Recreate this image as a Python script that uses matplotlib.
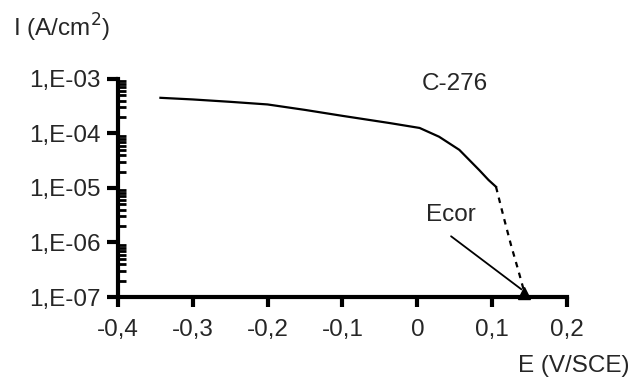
import matplotlib
matplotlib.use("Agg")
import matplotlib.pyplot as plt
from matplotlib.ticker import FixedLocator, LogLocator, NullFormatter

# polarisation curve
e_solid = [-0.343, -0.30, -0.25, -0.20, -0.15, -0.10, -0.05, -0.037, 0.003, 0.029, 0.056, 0.083, 0.095, 0.105]
i_solid = [4.5e-4, 4.2e-4, 3.8e-4, 3.4e-4, 2.7e-4, 2.1e-4, 1.65e-4, 1.55e-4, 1.26e-4, 8.7e-5, 5.0e-5, 2.1e-5, 1.4e-5, 1.05e-5]
e_dash = [0.105, 0.115, 0.125, 0.135, 0.143]
i_dash = [1.05e-5, 3.0e-6, 9.0e-7, 3.0e-7, 1.2e-7]
e_cor = 0.143
i_cor = 1.2e-7

x_ticks = [-0.4, -0.3, -0.2, -0.1, 0.0, 0.1, 0.2]
x_labels = ["-0,4", "-0,3", "-0,2", "-0,1", "0", "0,1", "0,2"]
y_ticks = [1e-7, 1e-6, 1e-5, 1e-4, 1e-3]
y_labels = ["1,E-07", "1,E-06", "1,E-05", "1,E-04", "1,E-03"]

plt.rcParams["font.family"] = ["Liberation Sans", "DejaVu Sans"]
fs = 17.5
txt = "#262626"

fig = plt.figure(figsize=(6.33, 3.83), dpi=100)
ax = fig.add_axes([0.186, 0.2245, 0.71, 0.5695])

ax.plot(e_solid, i_solid, color="black", lw=1.6)
ax.plot(e_dash, i_dash, color="black", lw=1.6, ls=(0, (2.5, 2.5)))
ax.plot([e_cor], [i_cor], marker="^", color="black", ms=8, clip_on=False)

ax.set_yscale("log")
ax.set_xlim(-0.4, 0.2)
ax.set_ylim(1e-7, 1e-3)

ax.set_xticks(x_ticks)
ax.set_xticklabels(x_labels, fontsize=fs, color=txt)
ax.yaxis.set_major_locator(FixedLocator(y_ticks))
ax.set_yticklabels(y_labels, fontsize=fs, color=txt)
ax.yaxis.set_minor_locator(LogLocator(base=10, subs=range(2, 10)))
ax.yaxis.set_minor_formatter(NullFormatter())

ax.tick_params(axis="x", direction="out", length=7, width=3, pad=9)
ax.tick_params(axis="y", which="major", direction="out", length=8, width=3, pad=4)
ax.tick_params(axis="y", which="minor", direction="in", length=6, width=2)

for side in ["top", "right"]:
    ax.spines[side].set_visible(False)
ax.spines["left"].set_linewidth(3)
ax.spines["bottom"].set_linewidth(3)

ax.text(0.006, 6.3e-4, "C-276", fontsize=fs, color=txt)

# Ecor label with a plain line pointing to the corrosion potential
ax.text(0.045, 3.2e-6, "Ecor", fontsize=fs, color=txt, ha="center", va="center")
ax.annotate("", xy=(e_cor - 0.004, i_cor * 1.15), xytext=(0.045, 1.3e-6),
            arrowprops=dict(arrowstyle="-", color="black", lw=1.3,
                            shrinkA=0, shrinkB=0))

fig.text(0.02, 0.905, "I (A/cm$^2$)", fontsize=fs, color=txt)
fig.text(0.995, 0.03, "E (V/SCE)", fontsize=fs, color=txt, ha="right")

fig.savefig("out.png", dpi=100)
